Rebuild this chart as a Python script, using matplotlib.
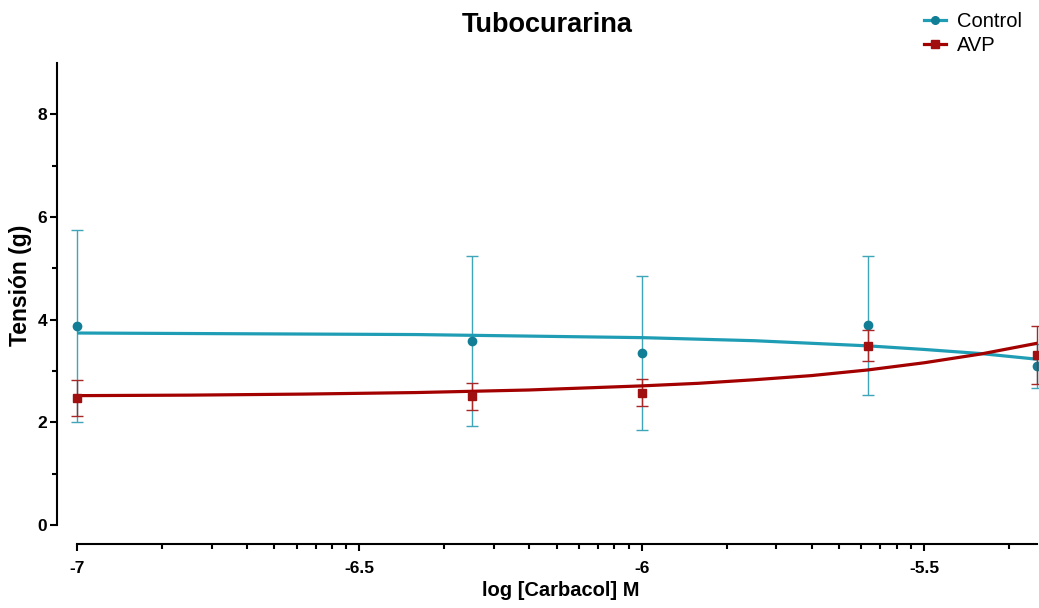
import matplotlib
matplotlib.use("Agg")
import matplotlib.pyplot as plt
import numpy as np
from matplotlib.lines import Line2D

# ---------------------------------------------------------------------------
# Data
# ---------------------------------------------------------------------------
log_dose = [-7.0, -6.3, -6.0, -5.6, -5.3]

control_mean = [3.87, 3.59, 3.35, 3.89, 3.09]
control_sem = [1.87, 1.66, 1.50, 1.35, 0.43]

avp_mean = [2.48, 2.51, 2.58, 3.49, 3.31]
avp_sem = [0.35, 0.26, 0.27, 0.30, 0.57]

# fitted curves
curve_x = [-7.0, -6.8, -6.6, -6.4, -6.2, -6.0, -5.9, -5.8, -5.7, -5.6, -5.5, -5.4, -5.3]
control_fit = [3.74, 3.73, 3.72, 3.71, 3.68, 3.65, 3.62, 3.59, 3.54, 3.49, 3.42, 3.34, 3.23]
avp_fit = [2.52, 2.53, 2.55, 2.58, 2.63, 2.71, 2.76, 2.83, 2.91, 3.02, 3.16, 3.33, 3.54]

x_major = [-7, -6.5, -6, -5.5]
y_major = [0, 2, 4, 6, 8]
y_minor = [1, 3, 5, 7]

TEAL_LINE = "#1f9db5"
TEAL_MARK = "#117e95"
TEAL_ERR = "#3fa6ba"
RED_LINE = "#a30000"
RED_MARK = "#a01010"
RED_ERR = "#a82828"

W, H = 1039, 608

plt.rcParams["font.family"] = ["Liberation Sans", "DejaVu Sans"]

fig = plt.figure(figsize=(W / 100, H / 100), dpi=100)
ax = fig.add_axes([77 / W, 1 - 525 / H, (1037 - 77) / W, (525 - 63) / H])

# minor ticks on x: half-decade log spacing as in Prism
x_minor = []
for m in x_major:
    for k in range(2, 10):
        v = m + 0.5 * np.log10(k)
        if v < -5.3:
            x_minor.append(v)

# control
ax.errorbar(log_dose, control_mean, yerr=control_sem, fmt="none",
            ecolor=TEAL_ERR, elinewidth=1.0, capsize=4, capthick=1.0,
            zorder=2, clip_on=False)
ax.plot(curve_x, control_fit, color=TEAL_LINE, lw=2.3, zorder=3)
ax.plot(log_dose, control_mean, "o", color=TEAL_MARK, ms=6, zorder=4,
        clip_on=False)

# AVP
ax.errorbar(log_dose, avp_mean, yerr=avp_sem, fmt="none",
            ecolor=RED_ERR, elinewidth=1.0, capsize=4, capthick=1.0,
            zorder=5, clip_on=False)
ax.plot(curve_x, avp_fit, color=RED_LINE, lw=2.3, zorder=6)
ax.plot(log_dose, avp_mean, "s", color=RED_MARK, ms=6, zorder=7,
        clip_on=False)

ax.set_xlim(-7, -5.3)
ax.set_ylim(0, 9)

ax.set_xticks(x_major)
ax.set_xticklabels(["-7", "-6.5", "-6", "-5.5"])
ax.set_xticks(x_minor, minor=True)
ax.set_yticks(y_major)
ax.set_yticks(y_minor, minor=True)

for s in ["top", "right"]:
    ax.spines[s].set_visible(False)
ax.spines["left"].set_position(("outward", 14.4))
ax.spines["bottom"].set_position(("outward", 13.7))
for s in ["left", "bottom"]:
    ax.spines[s].set_linewidth(1.5)

ax.tick_params(axis="both", which="major", direction="out", length=5, width=1.5,
               labelsize=12.5)
ax.tick_params(axis="both", which="minor", direction="out", length=3.5, width=1.5)
ax.tick_params(axis="x", pad=7)
ax.tick_params(axis="y", pad=2)
for lab in ax.get_xticklabels() + ax.get_yticklabels():
    lab.set_fontweight("bold")

fig.text(561 / W, 1 - 590 / H, "log [Carbacol] M", fontsize=14.5,
         fontweight="bold", ha="center", va="center")
fig.text(21 / W, 1 - 285 / H, "Tensión (g)", fontsize=16.5, fontweight="bold",
         ha="center", va="center", rotation=90)
fig.text(547 / W, 1 - 25 / H, "Tubocurarina", fontsize=19.5, fontweight="bold",
         ha="center", va="center")

handles = [
    Line2D([], [], color=TEAL_LINE, lw=2.3, marker="o", ms=5.5,
           markerfacecolor=TEAL_MARK, markeredgecolor=TEAL_MARK),
    Line2D([], [], color=RED_LINE, lw=2.3, marker="s", ms=5.5,
           markerfacecolor=RED_MARK, markeredgecolor=RED_MARK),
]
fig.legend(handles, ["Control", "AVP"], loc="upper left",
           bbox_to_anchor=(924 / W, 1 - 12 / H), frameon=False, fontsize=14.5,
           handlelength=1.1, handletextpad=0.55, labelspacing=0.25,
           borderpad=0.0, borderaxespad=0.0)

fig.savefig("out.png", dpi=100)
